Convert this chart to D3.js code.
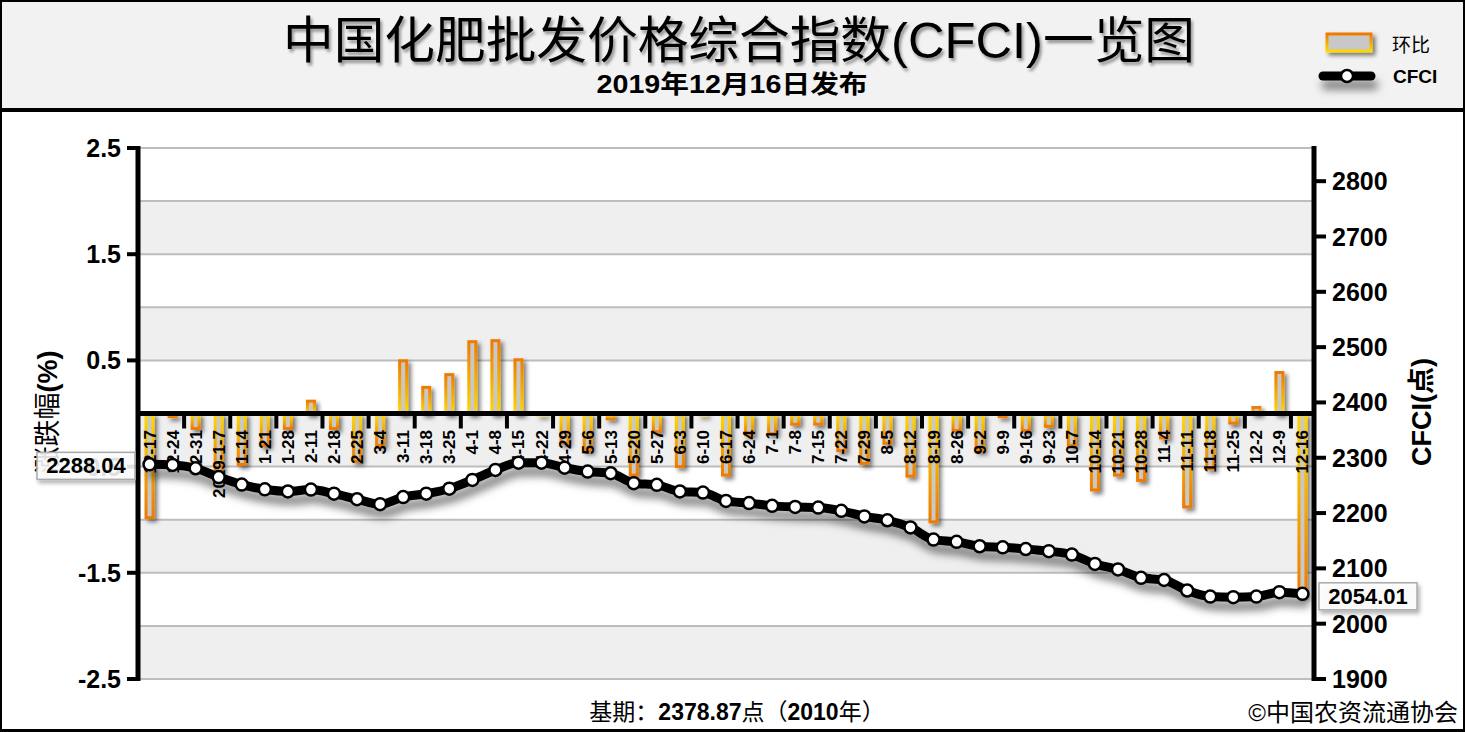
<!DOCTYPE html>
<html><head><meta charset="utf-8">
<script src="https://cdn.jsdelivr.net/npm/d3@7/dist/d3.min.js"></script>
<style>
html,body{margin:0;padding:0;background:#fff;}
svg{display:block;}
text{font-family:"Liberation Sans",Arial,"Noto Sans CJK SC",sans-serif;}
</style></head>
<body>
<svg id="chart" width="1465" height="732"></svg>
<script>
const categories = ["12-17","12-24","12-31","2019-1-7","1-14","1-21","1-28","2-11","2-18","2-25","3-4","3-11","3-18","3-25","4-1","4-8","4-15","4-22","4-29","5-6","5-13","5-20","5-27","6-3","6-10","6-17","6-24","7-1","7-8","7-15","7-22","7-29","8-5","8-12","8-19","8-26","9-2","9-9","9-16","9-23","10-7","10-14","10-21","10-28","11-4","11-11","11-18","11-25","12-2","12-9","12-16"];
const changePct = [-0.98,-0.03,-0.14,-0.55,-0.48,-0.3,-0.14,0.13,-0.14,-0.45,
  -0.3,0.51,0.26,0.38,0.69,0.70,0.52,0,-0.28,-0.35,
  -0.05,-0.58,-0.17,-0.5,0,-0.58,-0.2,-0.19,-0.1,-0.1,
  -0.35,-0.47,-0.28,-0.59,-1.02,-0.16,-0.35,-0.03,-0.16,-0.12,
  -0.3,-0.72,-0.58,-0.63,-0.23,-0.88,-0.52,-0.09,0.07,0.4,
  -1.72];
const cfci = [2288.04,2287,2281,2265,2251.5,2243,2239,2242.5,2235,2225,
  2216,2229,2235,2244,2260,2278,2291,2291,2282,2275,
  2272,2254,2251,2239,2237,2222,2218,2213,2211,2210,
  2204,2194,2187,2174,2152,2148,2140,2138,2135,2131,
  2125,2108,2098,2083,2079,2060,2049,2048,2049,2057,
  2054.01];
const leftTicks = [2.5,1.5,0.5,-0.5,-1.5,-2.5];
const leftTickLabels = ["2.5","1.5","0.5","-0.5","-1.5","-2.5"];
const leftGrid = [2.5,2,1.5,1,0.5,0,-0.5,-1,-1.5,-2,-2.5];
const rightTicks = [1900,2000,2100,2200,2300,2400,2500,2600,2700,2800];
const titleText = "中国化肥批发价格综合指数(CFCI)一览图";
const subtitleText = "2019年12月16日发布";
const legendBar = "环比";
const legendLine = "CFCI";
const leftTitle = "涨跌幅";
const rightTitle = "CFCI(点)";
const baseText = ["基期：","2378.87","点（","2010","年）"];
const copyright = "©中国农资流通协会";

const W = 1465, H = 732;
const svg = d3.select("#chart");
const defs = svg.append("defs");

const gPos = defs.append("linearGradient").attr("id","gPos").attr("x1",0).attr("y1",0).attr("x2",0).attr("y2",1);
gPos.append("stop").attr("offset","0%").attr("stop-color","#ee7a00");
gPos.append("stop").attr("offset","100%").attr("stop-color","#ffd800");
const gNeg = defs.append("linearGradient").attr("id","gNeg").attr("x1",0).attr("y1",0).attr("x2",0).attr("y2",1);
gNeg.append("stop").attr("offset","0%").attr("stop-color","#ffd800");
gNeg.append("stop").attr("offset","100%").attr("stop-color","#ee7a00");

function shadowFilter(id, dx, dy, sd, op) {
  const f = defs.append("filter").attr("id", id).attr("filterUnits","userSpaceOnUse")
    .attr("x",0).attr("y",0).attr("width",W).attr("height",H);
  f.append("feDropShadow").attr("dx",dx).attr("dy",dy).attr("stdDeviation",sd).attr("flood-color","#000").attr("flood-opacity",op);
}
shadowFilter("fBar", 3, 3, 2, 0.5);
shadowFilter("fLine", 3, 9, 4, 0.5);
shadowFilter("fBox", 2, 3, 2, 0.35);
shadowFilter("fTitle", 2, 3, 1.5, 0.4);

svg.append("rect").attr("x",0).attr("y",0).attr("width",W).attr("height",H).attr("fill","#fff");
svg.append("rect").attr("x",0).attr("y",0).attr("width",W).attr("height",110).attr("fill","#f2f2f2");

const x0 = 138, x1 = 1314, yTop = 148, yBot = 679;
const x = d3.scaleBand().domain(categories).range([x0, x1]).padding(0);
const yL = d3.scaleLinear().domain([-2.5, 2.5]).range([yBot, yTop]);
const yR = d3.scaleLinear().domain([1900, 2860]).range([yBot, yTop]);
const bw = x.bandwidth();

const bandPairs = d3.pairs(leftGrid);
svg.append("g").selectAll("rect").data(bandPairs).join("rect")
  .attr("x", x0).attr("width", x1 - x0)
  .attr("y", d => yL(d[0])).attr("height", d => yL(d[1]) - yL(d[0]))
  .attr("fill", (d,i) => i % 2 === 1 ? "#efefef" : "#ffffff");
svg.append("g").selectAll("line").data(leftGrid).join("line")
  .attr("x1", x0).attr("x2", x1).attr("y1", d => yL(d)).attr("y2", d => yL(d))
  .attr("stroke", "#bdbdbd").attr("stroke-width", 2);

const barW = 7;
svg.append("g").attr("filter","url(#fBar)").selectAll("rect").data(categories).join("rect")
  .attr("x", d => x(d) + bw/2 - barW/2)
  .attr("width", barW)
  .attr("y", (d,i) => Math.min(yL(0), yL(changePct[i])) + 1.5)
  .attr("height", (d,i) => Math.max(0.01, Math.abs(yL(changePct[i]) - yL(0)) - 1.5))
  .attr("fill", "#c8c8c8")
  .attr("stroke", (d,i) => changePct[i] >= 0 ? "url(#gPos)" : "url(#gNeg)")
  .attr("stroke-width", 3);

svg.append("g").selectAll("text").data(categories).join("text")
  .attr("transform", d => `translate(${x(d) + bw/2 + 6},430) rotate(-90)`)
  .attr("text-anchor", "end")
  .attr("font-size", 17).attr("font-weight", "bold").attr("fill", "#000")
  .text(d => d);

svg.append("line").attr("x1", x0).attr("x2", x1).attr("y1", yL(0)).attr("y2", yL(0))
  .attr("stroke", "#000").attr("stroke-width", 5);
const tickIdx = d3.range(2, categories.length, 2);
svg.append("g").selectAll("line").data(tickIdx).join("line")
  .attr("x1", i => x0 + i * bw).attr("x2", i => x0 + i * bw)
  .attr("y1", yL(0)).attr("y2", yL(0) + 15)
  .attr("stroke", "#000").attr("stroke-width", 4);

const gl = svg.append("g");
gl.append("line").attr("x1", x0).attr("x2", x0).attr("y1", yTop - 2).attr("y2", yBot + 2).attr("stroke", "#000").attr("stroke-width", 5);
gl.selectAll("line.t").data(leftTicks).join("line").attr("class","t")
  .attr("x1", x0 - 11).attr("x2", x0).attr("y1", d => yL(d)).attr("y2", d => yL(d))
  .attr("stroke", "#000").attr("stroke-width", 4);
gl.selectAll("text").data(leftTicks).join("text")
  .attr("x", x0 - 17).attr("y", d => yL(d) + 9)
  .attr("text-anchor", "end").attr("font-size", 25).attr("font-weight", "bold")
  .text((d,i) => leftTickLabels[i]);
const lt = svg.append("text").attr("transform", "translate(57,412) rotate(-90)")
  .attr("text-anchor", "middle").attr("font-size", 27);
lt.append("tspan").attr("font-family", "'Noto Sans CJK SC',sans-serif").text(leftTitle);
lt.append("tspan").attr("font-weight", "bold").text("(%)");

const gr = svg.append("g");
gr.append("line").attr("x1", x1).attr("x2", x1).attr("y1", yTop - 2).attr("y2", yBot + 2).attr("stroke", "#000").attr("stroke-width", 5);
gr.selectAll("line.t").data(rightTicks).join("line").attr("class","t")
  .attr("x1", x1).attr("x2", x1 + 12).attr("y1", d => yR(d)).attr("y2", d => yR(d))
  .attr("stroke", "#000").attr("stroke-width", 4);
gr.selectAll("text").data(rightTicks).join("text")
  .attr("x", x1 + 18).attr("y", d => yR(d) + 9)
  .attr("font-size", 25).attr("font-weight", "bold")
  .text(d => d);
svg.append("text").attr("transform", "translate(1431,412) rotate(-90)")
  .attr("text-anchor", "middle").attr("font-size", 27).attr("font-weight", "bold")
  .text(rightTitle);

const pts = categories.map((c,i) => [x(c) + bw/2, yR(cfci[i])]);
const lineGen = d3.line().curve(d3.curveMonotoneX);
svg.append("path").attr("d", lineGen(pts)).attr("fill","none")
  .attr("stroke","#000").attr("stroke-width",9).attr("stroke-linejoin","round").attr("stroke-linecap","round")
  .attr("filter","url(#fLine)");
svg.append("g").selectAll("circle").data(pts).join("circle")
  .attr("cx", d => d[0]).attr("cy", d => d[1]).attr("r", 6)
  .attr("fill","#fff").attr("stroke","#000").attr("stroke-width",2.5);

function valueBox(cx, cy, txt) {
  const g = svg.append("g");
  g.append("rect").attr("x", cx - 49).attr("y", cy - 13).attr("width", 98).attr("height", 27)
    .attr("fill", "#fff").attr("fill-opacity", 0.85).attr("stroke", "#aaa").attr("stroke-width", 1.5)
    .attr("filter", "url(#fBox)");
  g.append("text").attr("x", cx).attr("y", cy + 8).attr("text-anchor", "middle")
    .attr("font-size", 22).attr("font-weight", "bold").text(txt);
}
valueBox(86, yR(cfci[0]) + 1, d3.format(".2f")(cfci[0]));
valueBox(1368, yR(cfci[cfci.length-1]) + 2, d3.format(".2f")(cfci[cfci.length-1]));

svg.append("text").attr("x", 739).attr("y", 58).attr("text-anchor", "middle")
  .attr("font-size", 50).attr("textLength", 912).attr("lengthAdjust", "spacingAndGlyphs")
  .attr("font-family", "'Liberation Sans','Noto Sans CJK SC',sans-serif")
  .attr("filter", "url(#fTitle)").text(titleText);
svg.append("text").attr("x", 732).attr("y", 93).attr("text-anchor", "middle")
  .attr("font-size", 25).attr("font-weight", "bold").attr("textLength", 271).attr("lengthAdjust", "spacingAndGlyphs")
  .text(subtitleText);

svg.append("rect").attr("x", 1327).attr("y", 34).attr("width", 44).attr("height", 17)
  .attr("fill", "#c8c8c8").attr("stroke", "url(#gPos)").attr("stroke-width", 3).attr("filter","url(#fBar)");
svg.append("text").attr("x", 1392).attr("y", 52).attr("font-size", 19)
  .attr("font-family", "'Noto Sans CJK SC',sans-serif").text(legendBar);
const legPts = [[1323,76],[1371,76]];
svg.append("path").attr("d", d3.line()(legPts)).attr("fill","none").attr("stroke","#000").attr("stroke-width",9)
  .attr("stroke-linecap","round").attr("filter","url(#fLine)");
svg.append("circle").attr("cx",1347).attr("cy",76).attr("r",6).attr("fill","#fff").attr("stroke","#000").attr("stroke-width",2.5);
svg.append("text").attr("x", 1393).attr("y", 83).attr("font-size", 19).attr("font-weight","bold").text(legendLine);

const bt = svg.append("text").attr("x", 737).attr("y", 720).attr("text-anchor", "middle").attr("font-size", 23);
baseText.forEach((t,i) => bt.append("tspan").attr("font-weight", i % 2 === 1 ? "bold" : "normal")
  .attr("font-family", i % 2 === 1 ? "'Liberation Sans',sans-serif" : "'Noto Sans CJK SC',sans-serif").text(t));
svg.append("text").attr("x", 1458).attr("y", 721).attr("text-anchor", "end").attr("font-size", 24)
  .attr("font-family", "'Noto Sans CJK SC',sans-serif").text(copyright);

svg.append("line").attr("x1",0).attr("x2",W).attr("y1",110).attr("y2",110).attr("stroke","#000").attr("stroke-width",4);
svg.append("rect").attr("x",1).attr("y",1).attr("width",W-2).attr("height",H-2).attr("fill","none").attr("stroke","#000").attr("stroke-width",2);
svg.append("line").attr("x1",0).attr("x2",W).attr("y1",730.5).attr("y2",730.5).attr("stroke","#000").attr("stroke-width",3);
</script>
</body></html>
